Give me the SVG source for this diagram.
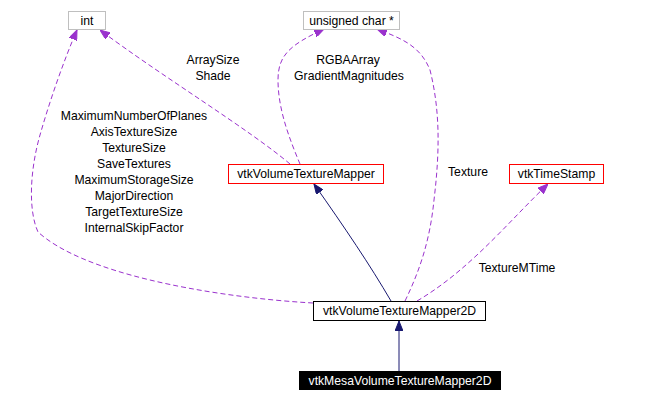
<svg xmlns="http://www.w3.org/2000/svg" width="653" height="402" viewBox="0 0 653 402">
<defs>
<style>
text{font-family:"Liberation Sans",Arial,sans-serif;font-size:12.2px;fill:#000;text-anchor:middle}
.box{fill:#fff;stroke-width:1}
.grey{stroke:#bfbfbf}
.red{stroke:#ff0000}
.blk{stroke:#000}
.dash{fill:none;stroke:#9a32cd;stroke-width:1;stroke-dasharray:5,3}
.inh{fill:none;stroke:#191970;stroke-width:1}
</style>
<marker id="ap" viewBox="0 0 10 8" refX="10" refY="4" markerWidth="10" markerHeight="8" markerUnits="userSpaceOnUse" orient="auto">
<path d="M0,0 L10,4 L0,8 Z" fill="#9a32cd" stroke="#9a32cd"/>
</marker>
<marker id="an" viewBox="0 0 10 8" refX="10" refY="4" markerWidth="10" markerHeight="8" markerUnits="userSpaceOnUse" orient="auto">
<path d="M0,0 L10,4 L0,8 Z" fill="#191970" stroke="#191970"/>
</marker>
</defs>
<rect width="653" height="402" fill="#fff"/>
<g id="connectors">
<path class="dash" marker-end="url(#ap)" d="M313,303 C260,300 200,292 150,280 C100,268 60,252 38,232 C28,210 30,170 40,135 C50,100 64,60 77,30"/>
<path class="dash" marker-end="url(#ap)" d="M290,164 C250,130 160,75 100,30"/>
<path class="dash" marker-end="url(#ap)" d="M300,164 C290,140 278,110 278,80 C278,55 290,45 324,29"/>
<path class="dash" marker-end="url(#ap)" d="M405,301 C420,270 430,240 434,200 C440,150 440,110 430,70 C420,45 400,38 377,29"/>
<path class="dash" marker-end="url(#ap)" d="M417,301 C470,270 510,220 548,184"/>
<path class="inh" marker-end="url(#an)" d="M391,301 C370,265 345,228 314,184"/>
<path class="inh" marker-end="url(#an)" d="M399,371 L399,321"/>
</g>
<g id="lbl">
<text x="213" y="64">ArraySize</text>
<text x="213" y="80">Shade</text>
<text x="348" y="64">RGBAArray</text>
<text x="349" y="80">GradientMagnitudes</text>
<text x="134" y="120">MaximumNumberOfPlanes</text>
<text x="134" y="136">AxisTextureSize</text>
<text x="134" y="152">TextureSize</text>
<text x="134" y="168">SaveTextures</text>
<text x="134" y="184">MaximumStorageSize</text>
<text x="134" y="200">MajorDirection</text>
<text x="134" y="216">TargetTextureSize</text>
<text x="134" y="232">InternalSkipFactor</text>
<text x="468" y="176">Texture</text>
<text x="517" y="272">TextureMTime</text>
</g>
<g id="int"><rect class="box grey" x="68.5" y="11.5" width="37" height="18"/><text x="87" y="25">int</text></g>
<g id="uchar"><rect class="box grey" x="303.5" y="11.5" width="96" height="18"/><text x="351.5" y="25">unsigned char *</text></g>
<g id="vtkVolumeTextureMapper"><rect class="box red" x="228.5" y="164.5" width="155" height="19"/><text x="306" y="178">vtkVolumeTextureMapper</text></g>
<g id="vtkTimeStamp"><rect class="box red" x="509.5" y="164.5" width="94" height="19"/><text x="556.5" y="178">vtkTimeStamp</text></g>
<g id="vtkVolumeTextureMapper2D"><rect class="box blk" x="313.5" y="301.5" width="172" height="19"/><text x="399.5" y="315">vtkVolumeTextureMapper2D</text></g>
<g id="vtkMesaVolumeTextureMapper2D"><rect x="299" y="371" width="202" height="19" fill="#000"/><text x="400" y="385" style="fill:#fff">vtkMesaVolumeTextureMapper2D</text></g>
</svg>
